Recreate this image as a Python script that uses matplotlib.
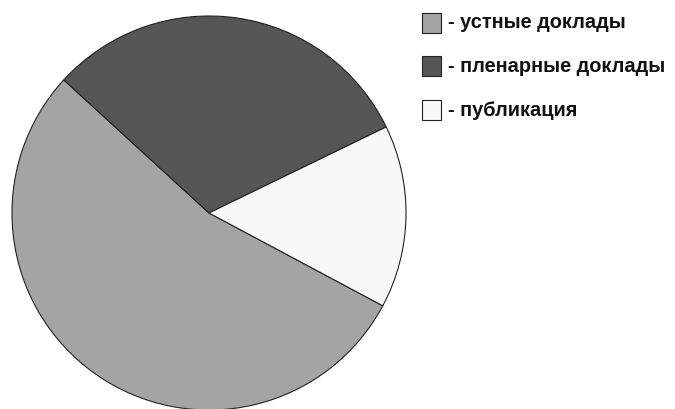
import matplotlib
matplotlib.use("Agg")
import matplotlib.pyplot as plt
from matplotlib.patches import Rectangle

# доли видов выступлений, %
labels = ["устные доклады", "пленарные доклады", "публикация"]
shares = [54, 31, 15]
colors = ["#a4a4a4", "#555555", "#f8f8f8"]

W, H = 675, 409
fig = plt.figure(figsize=(W / 100, H / 100), dpi=100)
fig.patch.set_facecolor("white")

# круг: центр (209, 213) px, радиус 198 px
cx, cy, r = 209, 213, 198
ax = fig.add_axes([(cx - r) / W, (H - cy - r) / H, 2 * r / W, 2 * r / H])
wedges, _ = ax.pie(shares, colors=colors, startangle=-28.1, counterclock=False,
                   radius=1.0,
                   wedgeprops=dict(edgecolor="#222222", linewidth=0.8))
ax.set_xlim(-1.005, 1.005)
ax.set_ylim(-1.005, 1.005)
ax.axis("off")

# легенда справа
plt.rcParams["font.family"] = ["Liberation Sans", "DejaVu Sans"]
sq = 19
x0 = 422
rows = [23, 66, 110]
for lab, col, yc in zip(labels, colors, rows):
    fig.add_artist(Rectangle((x0 / W, (H - yc - sq / 2) / H), sq / W, sq / H,
                             transform=fig.transFigure, facecolor=col,
                             edgecolor="#222222", linewidth=0.8))
    fig.text((x0 + sq + 7) / W, (H - yc) / H, "- " + lab, fontsize=14.4,
             fontweight="bold", color="#111111", va="center", ha="left")

fig.savefig("out.png", dpi=100)
